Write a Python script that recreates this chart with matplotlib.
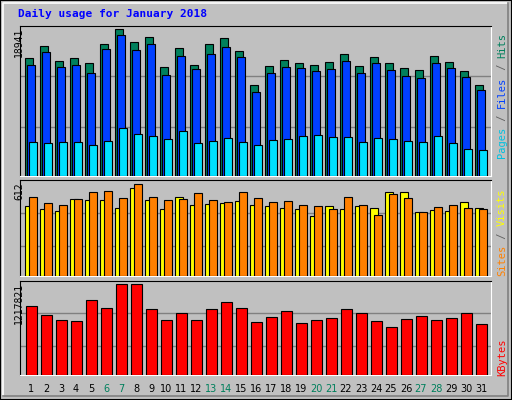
import matplotlib
matplotlib.use("Agg")
import matplotlib.pyplot as plt
from matplotlib.patches import Rectangle
import numpy as np

days = list(range(1, 32))
weekend = [6, 7, 13, 14, 20, 21, 27, 28]

hits = [15196, 16746, 14809, 15196, 14551, 17004, 18941, 17263, 17908, 14034, 16488, 14292, 17004, 17779, 16100,
        11709, 14163, 14938, 14551, 14292, 14680, 15713, 14163, 15325, 14551, 13905, 13647, 15455, 14680, 13517, 11709]
files = [14292, 15972, 14034, 14292, 13259, 16359, 18210, 16230, 17005, 13001, 15455, 13776, 15713, 16617, 15326,
         10806, 13259, 14034, 13905, 13518, 13776, 14809, 13259, 14551, 13647, 12872, 12614, 14551, 13905, 12743, 11064]
pages = [4348, 4219, 4348, 4348, 3961, 4477, 6156, 5381, 5123, 4736, 5769, 4219, 4477, 4865, 4348,
         3961, 4606, 4736, 5123, 5252, 4994, 4994, 4348, 4865, 4736, 4477, 4348, 5123, 4219, 3444, 3315]
sites = [465, 445, 432, 512, 505, 505, 452, 585, 505, 445, 525, 472, 478, 485, 499,
         472, 465, 452, 445, 398, 465, 445, 465, 452, 559, 559, 425, 438, 432, 492, 452]
visits = [525, 485, 472, 512, 559, 565, 519, 612, 525, 505, 512, 552, 505, 492, 559,
          519, 492, 499, 472, 465, 445, 525, 472, 405, 545, 519, 425, 458, 472, 452, 445]
kbytes = [923406, 802962, 736049, 722666, 1003703, 896641, 1217821, 1217821, 883258, 736049, 829727, 736049,
          883258, 976937, 896641, 709283, 776197, 856493, 695900, 736049, 762814, 883258, 829727, 722666,
          642370, 749432, 789580, 736049, 762814, 829727, 682518]

W, H = 512, 400
BG = "#c0c0c0"
fig = plt.figure(figsize=(W / 100, H / 100), dpi=100, facecolor=BG)

# cadre extérieur + relief
fig.patches.append(Rectangle((0, 0), 1, 1, transform=fig.transFigure, fill=False, ec="black", lw=1.5))
fig.add_artist(plt.Line2D([3 / W, 3 / W, 1 - 4 / W], [4 / H, 1 - 3 / H, 1 - 3 / H], color="white", lw=1.2))
fig.add_artist(plt.Line2D([3 / W, 1 - 4 / W, 1 - 4 / W], [4 / H, 4 / H, 1 - 3 / H], color="#808080", lw=1.2))

fig.text(18 / W, 1 - 14 / H, "Daily usage for January 2018", color="#0000ff", fontsize=8,
         family="DejaVu Sans Mono", fontweight="bold", va="center")

x0, x1 = 20, 491
xmin = 0.27
xmax = xmin + (x1 - x0) / 15


def panel(top, bottom):
    ax = fig.add_axes([x0 / W, 1 - bottom / H, (x1 - x0) / W, (bottom - top) / H])
    ax.set_facecolor(BG)
    ax.set_xlim(xmin, xmax)
    ax.set_xticks([])
    ax.set_yticks([])
    for s in ["top", "left"]:
        ax.spines[s].set_color("black")
    for s in ["bottom", "right"]:
        ax.spines[s].set_color("white")
    return ax


d = np.array(days)
kw = dict(align="edge", edgecolor="black", linewidth=0.8, zorder=3)

# hits / files / pages
ax1 = panel(26, 176)
top1 = max(hits) * 150 / 146.7
ax1.set_ylim(0, top1)
for g in [48.7, 100]:
    ax1.axhline(top1 * g / 150, color="#808080", lw=1, zorder=1)
ax1.bar(d - 0.38, hits, 0.49, color="#00805c", **kw)
ax1.bar(d - 0.25, files, 0.49, color="#0040ff", **kw)
ax1.bar(d - 0.11, pages, 0.49, color="#00e0ff", **kw)

# sites / visits
ax2 = panel(180, 276)
top2 = max(visits) * 96 / 91.7
ax2.set_ylim(0, top2)
for g in [29.7, 63]:
    ax2.axhline(top2 * g / 96, color="#808080", lw=1, zorder=1)
ax2.bar(d - 0.38, sites, 0.49, color="#ffff00", **kw)
ax2.bar(d - 0.11, visits, 0.49, color="#ff8000", **kw)

# kbytes
ax3 = panel(281, 375)
top3 = max(kbytes) * 94 / 91
ax3.set_ylim(0, top3)
for g in [29, 62]:
    ax3.axhline(top3 * g / 94, color="#808080", lw=1, zorder=1)
ax3.bar(d - 0.31, kbytes, 0.69, color="#ff0000", **kw)

mono = dict(family="DejaVu Sans Mono", fontsize=7, rotation=90)
fig.text(14 / W, 1 - 28 / H, str(max(hits)), va="top", ha="left", **mono)
fig.text(14 / W, 1 - 182 / H, str(max(visits)), va="top", ha="left", **mono)
fig.text(14 / W, 1 - 283 / H, str(max(kbytes)), va="top", ha="left", **mono)

# étiquettes verticales à droite (de bas en haut)
FS = 7.5
step = 0.602 * FS * 100 / 72


def vlabel(parts, ybottom):
    y = ybottom
    for txt, col in parts:
        fig.text(497 / W, 1 - y / H, txt, color=col, va="bottom", ha="left",
                 family="DejaVu Sans Mono", fontsize=FS, rotation=90)
        y -= len(txt) * step


vlabel([("Pages", "#00c0e0"), (" / ", "#606060"), ("Files", "#0040ff"), (" / ", "#606060"), ("Hits", "#00805c")], 158)
vlabel([("Sites", "#ff8000"), (" / ", "#606060"), ("Visits", "#ffff00")], 276)
vlabel([("KBytes", "#ff0000")], 376)

for i in days:
    col = "#00805c" if i in weekend else "black"
    xp = x0 + (i - xmin) * 15
    fig.text(xp / W, 1 - 389 / H, str(i), color=col, fontsize=7, ha="center", va="center",
             family="DejaVu Sans")

fig.savefig("out.png", dpi=100, facecolor=BG)
